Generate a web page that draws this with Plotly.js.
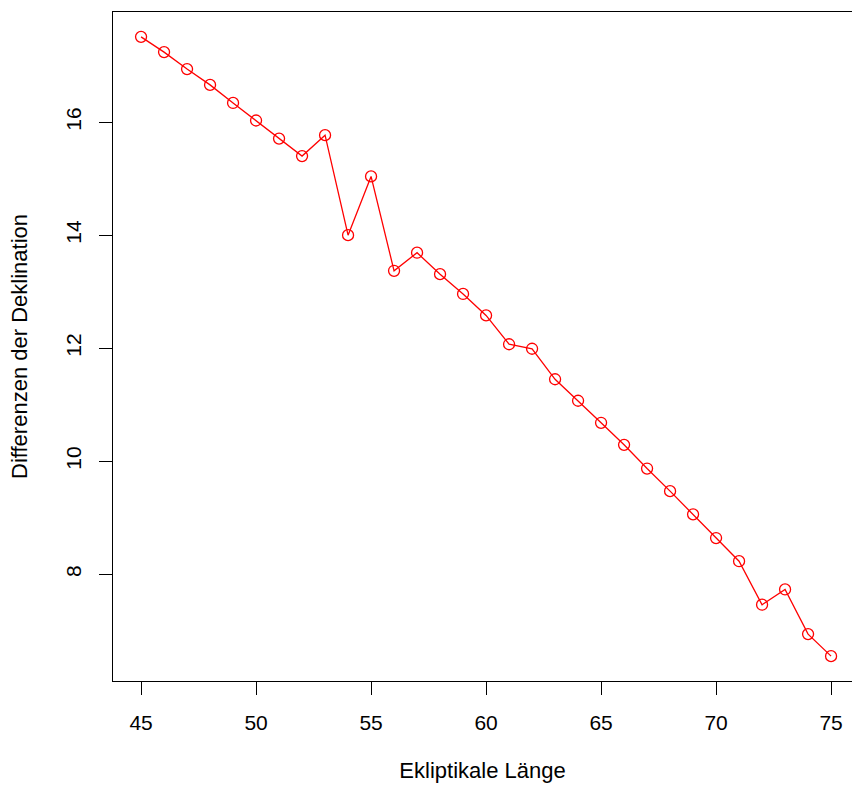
<!DOCTYPE html>
<html>
<head>
<meta charset="utf-8">
<script src="https://cdn.plot.ly/plotly-3.0.1.min.js"></script>
<style>html,body{margin:0;padding:0;background:#fff;}#chart{width:852px;height:789px;}</style>
</head>
<body>
<div id="chart"></div>
<script>
const laenge = [45,46,47,48,49,50,51,52,53,54,55,56,57,58,59,60,61,62,63,64,65,66,67,68,69,70,71,72,73,74,75];
const differenzen = [17.51,17.24,16.94,16.66,16.34,16.03,15.71,15.40,15.77,14.00,15.04,13.37,13.69,13.31,12.96,12.58,12.07,11.99,11.45,11.07,10.68,10.29,9.87,9.47,9.06,8.64,8.23,7.46,7.73,6.94,6.55];
const xTicks = [45,50,55,60,65,70,75];
const yTicks = [8,10,12,14,16];
const xTitle = "Ekliptikale Länge";
const yTitle = "Differenzen der Deklination";

const font = {family: "Liberation Sans, Arial, sans-serif", size: 21, color: "#000"};
const titleFont = {family: "Liberation Sans, Arial, sans-serif", size: 22, color: "#000"};

const trace = {
  x: laenge, y: differenzen, type: "scatter", mode: "lines+markers",
  line: {color: "#ff0000", width: 1.3},
  marker: {symbol: "circle-open", size: 11, color: "#ff0000", line: {color: "#ff0000", width: 1.3}},
  hoverinfo: "none"
};

const layout = {
  width: 852, height: 789,
  margin: {l: 113, r: 0, t: 12, b: 108, pad: 0},
  paper_bgcolor: "#fff", plot_bgcolor: "#fff",
  showlegend: false,
  font: font,
  xaxis: {
    range: [43.78, 75.91], tickvals: xTicks, ticktext: xTicks.map(String),
    ticks: "outside", ticklen: 13, tickwidth: 1, tickcolor: "#000",
    showline: true, linecolor: "#000", linewidth: 1, mirror: true,
    showgrid: false, zeroline: false, tickfont: font,
    ticklabelstandoff: 10,
    title: {text: xTitle, font: titleFont, standoff: 29}
  },
  yaxis: {
    range: [6.11, 17.95], tickvals: yTicks, ticktext: yTicks.map(String),
    ticks: "outside", ticklen: 13, tickwidth: 1, tickcolor: "#000", tickangle: -90,
    showline: true, linecolor: "#000", linewidth: 1, mirror: true,
    showgrid: false, zeroline: false, tickfont: font,
    ticklabelstandoff: 10,
    title: {text: yTitle, font: titleFont, standoff: 27}
  }
};

Plotly.newPlot("chart", [trace], layout, {staticPlot: true, displayModeBar: false});
</script>
</body>
</html>
